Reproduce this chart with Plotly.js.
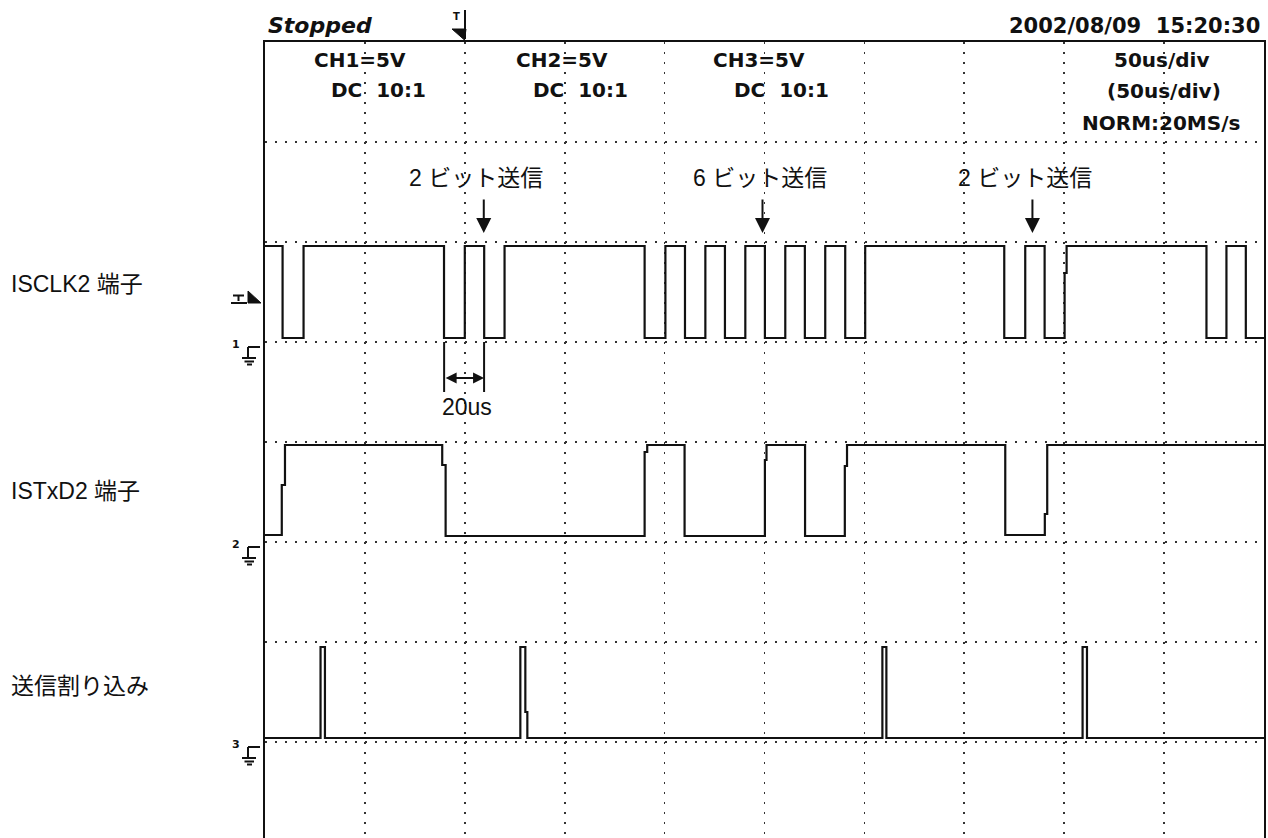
<!DOCTYPE html>
<html>
<head>
<meta charset="utf-8">
<script src="https://cdn.plot.ly/plotly-3.0.1.min.js"></script>
<style>html,body{margin:0;padding:0;background:#fff;}#chart{width:1268px;height:838px;}</style>
</head>
<body>
<div id="chart"></div>
<script>
// ---- data (time in us relative to trigger, levels in volts) ----
const ch1Time = [-100, -91.2, -80.7, -10.4, 0, 9.7, 19.9, 90, 100.4, 110.2, 120.4, 130.2, 140.4, 150.2, 160.4, 170.2, 180.4, 190.4, 200.4, 270, 280.5, 290.2, 300.2, 301.2, 371.2, 381.2, 390.9, 400];
const ch1Volt = [4.8, 0.2, 4.8, 0.2, 4.8, 0.2, 4.8, 0.2, 4.8, 0.2, 4.8, 0.2, 4.8, 0.2, 4.8, 0.2, 4.8, 0.2, 4.8, 0.2, 4.8, 0.2, 3.45, 4.8, 0.2, 4.8, 0.2, 0.2];

const ch2Time = [-100, -91.6, -90, -11.3, -9.6, 90, 91.3, 110, 150.2, 151, 170.3, 190.2, 191.3, 270.5, 290.3, 291.5, 400];
const ch2Volt = [0.35, 2.85, 4.85, 3.85, 0.3, 4.5, 4.85, 0.3, 4.1, 4.85, 0.3, 3.8, 4.85, 0.35, 1.4, 4.85, 4.85];

const ch3Time = [-100, -72.2, -70, 27.8, 30.3, 31.3, 209, 211, 309.2, 311.4, 400];
const ch3Volt = [0.2, 4.75, 0.2, 4.75, 1.5, 0.2, 4.75, 0.2, 4.75, 0.2, 0.2];

const channelLabels = ['ISCLK2 端子', 'ISTxD2 端子', '送信割り込み'];
const bitLabels = ['2 ビット送信', '6 ビット送信', '2 ビット送信'];
const bitArrowTimes = [9.5, 149, 284.1];
const scopeTexts = ['CH1=5V', 'DC  10:1', 'CH2=5V', 'DC  10:1', 'CH3=5V', 'DC  10:1', '50us/div', '(50us/div)', 'NORM:20MS/s'];
const statusText = 'Stopped';
const dateText = '2002/08/09  15:20:30';
const spanLabel = '20us';
const spanTimes = [-10.35, 9.65];
const groundDigits = ['1', '2', '3'];

// ---- pixel helpers for decorations ----
const L = 265, T = 42, W = 999, H = 796;
const px = x => (x - L) / W;
const py = y => (T + H - y) / H;
const INK = '#111';

const lineStyle = {shape: 'hv', width: 2.2, color: INK};
const traces = [
  {x: ch1Time, y: ch1Volt, yaxis: 'y2', mode: 'lines', line: lineStyle, hoverinfo: 'skip'},
  {x: ch2Time, y: ch2Volt, yaxis: 'y3', mode: 'lines', line: lineStyle, hoverinfo: 'skip'},
  {x: ch3Time, y: ch3Volt, yaxis: 'y', mode: 'lines', line: lineStyle, hoverinfo: 'skip'}
];

const scopeFont = {family: 'DejaVu Sans', size: 20, color: INK, weight: 'bold'};
const jpFont = {family: 'Liberation Sans, Noto Sans CJK JP, sans-serif', size: 23, color: INK};

const ann = [];
function txt(text, cx, cy, font, xanchor) {
  ann.push({xref: 'paper', yref: 'paper', x: px(cx), y: py(cy), text: text, showarrow: false,
            xanchor: xanchor || 'center', yanchor: 'middle', font: font});
}
const scopePos = [[360, 60], [378, 90], [562, 60], [580, 90], [759, 60], [781, 90], [1162, 60], [1164, 91], [1161, 123]];
scopeTexts.forEach((t, i) => txt(t, scopePos[i][0], scopePos[i][1], scopeFont));
txt(statusText, 266, 26, {family: 'DejaVu Sans', size: 22, color: INK, style: 'italic', weight: 'bold'}, 'left');
txt(dateText, 1262, 26, {family: 'DejaVu Sans', size: 21, color: INK, weight: 'bold'}, 'right');
const labelY = [284, 491, 686];
channelLabels.forEach((t, i) => txt(t, 9, labelY[i], jpFont, 'left'));
const bitX = [476, 760, 1025];
bitLabels.forEach((t, i) => txt(t, bitX[i], 178, jpFont));
txt(spanLabel, 467, 407, jpFont);
groundDigits.forEach((d, i) => txt(d, 235.5, 344 + 200 * i, {family: 'DejaVu Sans', size: 11, color: INK, weight: 'bold'}));
txt('T', 456.5, 17, {family: 'DejaVu Sans', size: 10, color: INK, weight: 'bold'});

// arrows
bitArrowTimes.forEach(t => ann.push({xref: 'x', yref: 'paper', x: t, y: py(233), ax: 0, ay: -35, text: '',
  showarrow: true, arrowhead: 2, arrowsize: 1.5, arrowwidth: 2, arrowcolor: INK, standoff: 0}));
ann.push({xref: 'x', yref: 'paper', x: spanTimes[1], y: py(378), axref: 'x', ax: spanTimes[0], ayref: 'pixel', ay: 0,
  text: '', showarrow: true, arrowside: 'end+start', arrowhead: 2, startarrowhead: 2,
  arrowsize: 1.1, startarrowsize: 1.1, arrowwidth: 2, arrowcolor: INK, standoff: 0, startstandoff: 0});

// shapes
const shapes = [];
function seg(x0, y0, x1, y1, w) {
  shapes.push({type: 'line', xref: 'paper', yref: 'paper', x0: px(x0), y0: py(y0), x1: px(x1), y1: py(y1),
               line: {color: INK, width: w || 1.5}});
}
function poly(pts) {
  const d = pts.map((p, i) => (i ? 'L' : 'M') + px(p[0]) + ',' + py(p[1])).join(' ') + ' Z';
  shapes.push({type: 'path', xref: 'paper', yref: 'paper', path: d, fillcolor: INK, line: {color: INK, width: 1}});
}
spanTimes.forEach(t => shapes.push({type: 'line', xref: 'x', yref: 'paper', x0: t, x1: t, y0: py(342), y1: py(392),
  line: {color: INK, width: 2}}));
// trigger position marker at top
seg(465, 10, 465, 39, 2);
poly([[452, 29], [466, 29], [464.5, 40]]);
// trigger level marker on CH1
seg(233, 295.5, 244, 295.5, 2);
seg(238.5, 295.5, 238.5, 301, 2);
seg(231, 303, 247, 303, 2);
poly([[248, 291], [248, 303], [261, 303]]);
// ground markers
[342, 542, 742].forEach(g => {
  seg(260, g + 5, 248, g + 5, 2);
  seg(248, g + 5, 248, g + 15, 2);
  seg(242, g + 16, 256, g + 16, 2);
  seg(244.5, g + 19.5, 254, g + 19.5, 2);
  seg(247, g + 22.5, 252, g + 22.5, 2);
});

const gridStyle = {showgrid: true, gridcolor: '#333', gridwidth: 1.6, griddash: '2px,8px', zeroline: false,
                   showticklabels: false, ticks: ''};
const layout = {
  width: 1268, height: 838,
  margin: {l: L, r: 4, t: T, b: 0, pad: 0},
  paper_bgcolor: '#fff', plot_bgcolor: '#fff', showlegend: false,
  xaxis: Object.assign({range: [-100, 400], dtick: 50, tick0: 0, side: 'top', showline: true,
                        linecolor: INK, linewidth: 2}, gridStyle),
  yaxis: Object.assign({range: [-4.8, 35], dtick: 5, tick0: 0, showline: true, mirror: true,
                        linecolor: INK, linewidth: 2}, gridStyle),
  yaxis2: {overlaying: 'y', range: [-24.8, 15], visible: false},
  yaxis3: {overlaying: 'y', range: [-14.8, 25], visible: false},
  annotations: ann,
  shapes: shapes
};
Plotly.newPlot('chart', traces, layout, {staticPlot: true, displayModeBar: false});
</script>
</body>
</html>
